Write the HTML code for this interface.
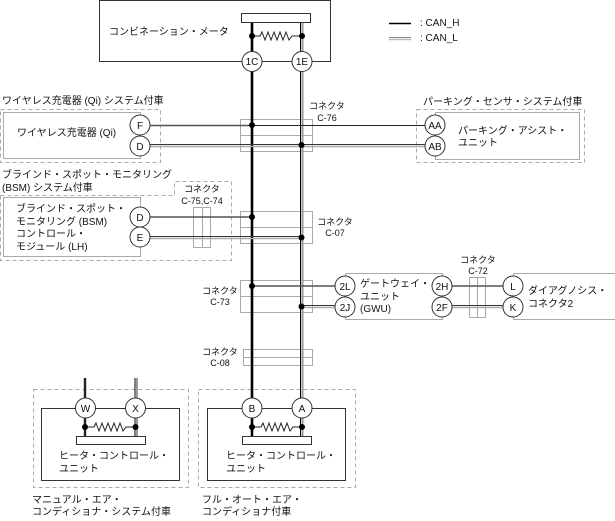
<!DOCTYPE html>
<html><head><meta charset="utf-8"><style>
html,body{margin:0;padding:0;background:#fff}
svg{display:block}
text{font-family:"Liberation Sans","Noto Sans CJK JP",sans-serif;font-size:10px;fill:#111}
.s{font-size:9px}
.m{text-anchor:middle}
</style></head><body>
<svg width="615" height="521" viewBox="0 0 615 521" xmlns="http://www.w3.org/2000/svg">
<g fill="none" stroke="#aaa" stroke-width="1" stroke-dasharray="4 3">
<rect x="0.5" y="109.5" width="160" height="53"/>
<path d="M0.5 195.5H174.5V181.5H231.5V260.5H0.5Z"/>
<rect x="416.5" y="109.5" width="168" height="53"/>
<rect x="33.5" y="389.5" width="155" height="98"/>
<rect x="198.5" y="389.5" width="157" height="98"/>
</g>
<g fill="none" stroke="#aaa" stroke-width="1">
<rect x="3.5" y="112.5" width="137" height="46"/>
<rect x="3.5" y="197.5" width="137" height="59"/>
<rect x="435.5" y="112.5" width="144" height="47"/>
<path d="M345.5 280V273.5H442.5V280M345.5 312V319.5H442.5V312"/>
<path d="M513.5 280V273.5H615M513.5 312V319.5H615"/>
<rect x="240.5" y="119.5" width="72" height="32"/><path d="M240 135.5H312"/>
<rect x="240.5" y="211.5" width="72" height="32"/><path d="M240 227.5H312"/>
<rect x="240.5" y="280.5" width="72" height="32"/><path d="M240 296.5H312"/>
<rect x="243.5" y="349.5" width="69" height="16"/><path d="M243 357.5H312"/>
<rect x="193.5" y="207.5" width="17" height="40"/><path d="M202.5 207V247"/>
<rect x="469.5" y="277.5" width="16" height="40"/><path d="M477.5 277V317"/>
</g>
<rect x="99.5" y="0.5" width="231" height="61" fill="none" stroke="#333"/>
<rect x="41.5" y="408.5" width="138" height="72" fill="none" stroke="#333"/>
<rect x="207.5" y="408.5" width="138" height="72" fill="none" stroke="#333"/>
<g fill="none">
<path d="M252 22V437" stroke="#000" stroke-width="2.6"/>
<path d="M302.5 22V437" stroke="#999" stroke-width="2"/>
<path d="M300.5 22V437" stroke="#000" stroke-width="1"/>
<path d="M85 378V437" stroke="#222" stroke-width="2.4"/>
<path d="M137 378V437" stroke="#999" stroke-width="2"/>
<path d="M135 378V437" stroke="#000" stroke-width="1"/>
<path d="M150 125.5H252" stroke="#555" stroke-width="1.4"/>
<path d="M252 125.5H425" stroke="#222" stroke-width="1"/>
<path d="M150 144.5H425" stroke="#333" stroke-width="1"/>
<path d="M150 146.5H425" stroke="#aaa" stroke-width="1.6"/>
<path d="M150 217H252" stroke="#555" stroke-width="1.4"/>
<path d="M150 236.5H302" stroke="#333" stroke-width="1"/>
<path d="M150 238.5H302" stroke="#aaa" stroke-width="1.6"/>
<path d="M252 286H335" stroke="#555" stroke-width="1.4"/>
<path d="M302 305.5H335" stroke="#333" stroke-width="1"/>
<path d="M302 307.5H335" stroke="#aaa" stroke-width="1.6"/>
<path d="M452 286H503" stroke="#555" stroke-width="1.4"/>
<path d="M452 305.5H503" stroke="#333" stroke-width="1"/>
<path d="M452 307.5H503" stroke="#aaa" stroke-width="1.6"/>
<path d="M252 36H260L262 32L265 40L268 32L271 40L274 32L277 40L280 32L283 40L286 32L289 40L292 36H302" stroke="#222" stroke-width="1"/>
<path d="M85 427H94L96 423L99 431L102 423L105 431L108 423L111 431L114 423L117 431L120 423L123 431L126 427H136" stroke="#222" stroke-width="1"/>
<path d="M252 427H261L263 423L266 431L269 423L272 431L275 423L278 431L281 423L284 431L287 423L290 431L293 427H302" stroke="#222" stroke-width="1"/>
</g>
<g fill="#fff" stroke="#333" stroke-width="1">
<rect x="241.5" y="13.5" width="69" height="9"/>
<rect x="76.5" y="436.5" width="69" height="8"/>
<rect x="242.5" y="436.5" width="69" height="8"/>
<circle cx="252" cy="61.5" r="10"/><circle cx="302" cy="61.5" r="10"/>
<circle cx="140" cy="125" r="10"/><circle cx="140" cy="146" r="10"/>
<circle cx="140" cy="217" r="10"/><circle cx="140" cy="237" r="10"/>
<circle cx="435" cy="125" r="10"/><circle cx="435" cy="146" r="10"/>
<circle cx="345" cy="286" r="10"/><circle cx="345" cy="307" r="10"/>
<circle cx="442" cy="286" r="10"/><circle cx="442" cy="307" r="10"/>
<circle cx="513" cy="286" r="10"/><circle cx="513" cy="307" r="10"/>
<circle cx="85.5" cy="408" r="10"/><circle cx="135.5" cy="408" r="10"/>
<circle cx="252" cy="408" r="10"/><circle cx="302" cy="408" r="10"/>
</g>
<g fill="#000">
<circle cx="252" cy="36" r="3"/><circle cx="302" cy="36" r="3"/>
<circle cx="252" cy="125" r="3"/><circle cx="301.5" cy="145" r="3"/>
<circle cx="252" cy="217" r="3"/><circle cx="301.5" cy="237.5" r="3"/>
<circle cx="252" cy="286" r="3"/><circle cx="301.5" cy="306.5" r="3"/>
<circle cx="85" cy="427" r="3"/><circle cx="135.5" cy="427" r="3"/>
<circle cx="252" cy="427" r="3"/><circle cx="302" cy="427" r="3"/>
</g>
<path d="M389 23.5H411" stroke="#000" stroke-width="1.6"/>
<path d="M389 37.5H411" stroke="#888" stroke-width="1"/>
<path d="M389 39.5H411" stroke="#bbb" stroke-width="1.4"/>
<text x="420" y="26">: CAN_H</text>
<text x="420" y="41">: CAN_L</text>
<text class="m" x="252" y="65">1C</text><text class="m" x="302" y="65">1E</text>
<text class="m" x="140" y="129">F</text><text class="m" x="140" y="150">D</text>
<text class="m" x="140" y="221">D</text><text class="m" x="140" y="241">E</text>
<text class="m" x="435" y="129">AA</text><text class="m" x="435" y="150">AB</text>
<text class="m" x="345" y="290">2L</text><text class="m" x="345" y="311">2J</text>
<text class="m" x="442" y="290">2H</text><text class="m" x="442" y="311">2F</text>
<text class="m" x="513" y="290">L</text><text class="m" x="513" y="311">K</text>
<text class="m" x="85.5" y="412">W</text><text class="m" x="135.5" y="412">X</text>
<text class="m" x="252" y="412">B</text><text class="m" x="302" y="412">A</text>
<text x="109" y="35">コンビネーション・メータ</text>
<text x="2" y="104">ワイヤレス充電器 (Qi) システム付車</text>
<text x="17" y="136">ワイヤレス充電器 (Qi)</text>
<text x="2" y="178">ブラインド・スポット・モニタリング</text>
<text x="2" y="191">(BSM) システム付車</text>
<text x="16" y="212">ブラインド・スポット・</text>
<text x="16" y="225">モニタリング (BSM)</text>
<text x="16" y="237">コントロール・</text>
<text x="16" y="250">モジュール (LH)</text>
<text x="423" y="105">パーキング・センサ・システム付車</text>
<text x="458" y="134">パーキング・アシスト・</text>
<text x="458" y="146">ユニット</text>
<text x="360" y="287">ゲートウェイ・</text>
<text x="360" y="300">ユニット</text>
<text x="360" y="312">(GWU)</text>
<text x="528" y="294">ダイアグノシス・</text>
<text x="528" y="307">コネクタ2</text>
<text x="59" y="459">ヒータ・コントロール・</text>
<text x="59" y="472">ユニット</text>
<text x="226" y="459">ヒータ・コントロール・</text>
<text x="226" y="472">ユニット</text>
<text x="32" y="503">マニュアル・エア・</text>
<text x="32" y="515">コンディショナ・システム付車</text>
<text x="202" y="503">フル・オート・エア・</text>
<text x="202" y="515">コンディショナ付車</text>
<text class="s m" x="202" y="192">コネクタ</text>
<text class="s m" x="202" y="204">C-75,C-74</text>
<text class="s m" x="327" y="109">コネクタ</text>
<text class="s m" x="327" y="121">C-76</text>
<text class="s m" x="335" y="225">コネクタ</text>
<text class="s m" x="335" y="236">C-07</text>
<text class="s m" x="220" y="294">コネクタ</text>
<text class="s m" x="220" y="305">C-73</text>
<text class="s m" x="220" y="355">コネクタ</text>
<text class="s m" x="220" y="366">C-08</text>
<text class="s m" x="478" y="263">コネクタ</text>
<text class="s m" x="478" y="274">C-72</text>
</svg>
</body></html>
